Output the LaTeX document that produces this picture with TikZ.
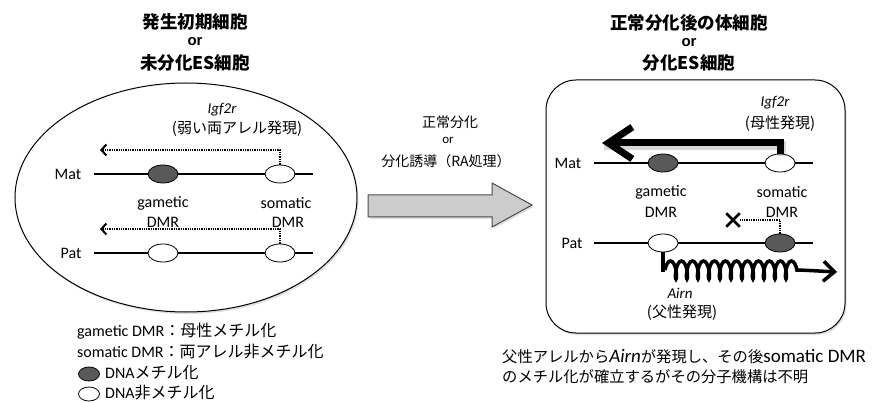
\documentclass[tikz,border=0pt]{standalone}
\usepackage{fontspec}
\setmainfont{Carlito}
\newfontfamily\jp{Noto Sans CJK JP}
\newfontfamily\arialf{Liberation Sans}
\usetikzlibrary{arrows.meta,shapes.geometric,shapes.misc,decorations.pathmorphing,shadows}
\definecolor{dmrgray}{gray}{0.35}
\definecolor{arrowgray}{gray}{0.8}
\newcommand\notejp[1]{{\jp\fontsize{15.3}{20}\selectfont #1}}
\begin{document}
\begin{tikzpicture}[x=1pt,y=-1pt,
  ttl/.style={font=\fontsize{17.5}{20}\selectfont\jp\bfseries, inner sep=0pt},
  ttlor/.style={font=\fontsize{15}{16}\selectfont\arialf\bfseries, inner sep=0pt},
  lab/.style={font=\fontsize{16}{18}\selectfont, inner sep=0pt},
  ital/.style={font=\fontsize{15}{18}\selectfont\itshape, inner sep=0pt},
  jlab/.style={font=\fontsize{15}{18}\selectfont\jp, inner sep=0pt},
  mid/.style={font=\fontsize{14}{16}\selectfont\jp, inner sep=0pt},
  note/.style={font=\fontsize{19}{22}\selectfont, inner sep=0pt, anchor=west},
  dmrfill/.style={ellipse, draw, line width=0.8pt, fill=dmrgray, minimum width=30pt, minimum height=18pt, inner sep=0pt},
  dmropen/.style={ellipse, draw, line width=0.8pt, fill=white, minimum width=30pt, minimum height=18pt, inner sep=0pt},
  chrom/.style={line width=2.2pt},
  weak/.style={densely dotted, line width=1.3pt, -{Straight Barb[length=5pt,width=11pt,line width=2pt]}},
  softshadow/.style={drop shadow={shadow xshift=1.5pt, shadow yshift=-2pt, opacity=0.25, fill=gray}},
]
\useasboundingbox (0,0) rectangle (874,403);

% ---------------- left cell ----------------
\node[ttl] (t1a) at (195,22) {発生初期細胞};
\node[ttlor] (t1b) at (195,42) {or};
\node[ttl] (t1c) at (195,63) {未分化ES細胞};

\node[ellipse, draw, line width=1pt, fill=white, minimum width=342pt, minimum height=229pt, inner sep=0pt, softshadow] (cellL) at (186,197.5) {};

\node[ital] (igfL) at (222,110) {Igf2r};
\node[jlab] (exprL) at (237,129) {(弱い両アレル発現)};

\coordinate (mLa) at (94,174);
\coordinate (mLb) at (313,174);
\coordinate (pLa) at (94,253);
\coordinate (pLb) at (313,253);
\draw[chrom] (mLa) -- (mLb);
\draw[chrom] (pLa) -- (pLb);
\node[lab] (matL) at (68,174) {Mat};
\node[lab] (patL) at (71,253) {Pat};
\node[dmrfill] (gamL1) at (163,174) {};
\node[dmropen] (somL1) at (280,174) {};
\node[dmropen] (gamL2) at (163,253) {};
\node[dmropen] (somL2) at (280,253) {};

\node[lab] (gtL) at (163,203) {gametic};
\node[lab] (gdL) at (163,222) {DMR};
\node[lab] (stL) at (286,203) {somatic};
\node[lab] (sdL) at (288,222) {DMR};

\coordinate (tipL1) at (100,150);
\coordinate (tipL2) at (100,229);
\draw[weak] (somL1.north) |- (tipL1);
\draw[weak] (somL2.north) |- (tipL2);

% legend
\node[lab, anchor=west] (legA) at (77,331) {gametic DMR{\jp ：母性メチル化}};
\node[lab, anchor=west] (legB) at (77,352) {somatic DMR{\jp ：両アレル非メチル化}};
\node[dmrfill, minimum width=21pt, minimum height=14pt] (legC) at (89,374) {};
\node[lab, anchor=west] (legCt) at (105,373) {DNA{\jp メチル化}};
\node[dmropen, minimum width=21pt, minimum height=14pt] (legD) at (89,394) {};
\node[lab, anchor=west] (legDt) at (105,393) {DNA{\jp 非メチル化}};

% ---------------- middle ----------------
\node[mid] (m1) at (450,122) {正常分化};
\node[font=\fontsize{13}{14}\selectfont, inner sep=0pt] (m2) at (448,140) {or};
\node[mid] (m3) at (446,161) {分化誘導（RA処理）};
\draw[fill=arrowgray, draw=black!70, line width=1pt, softshadow]
  (368,195) -- (492,195) -- (492,183) -- (532,205) -- (492,227) -- (492,217) -- (368,217) -- cycle;

% ---------------- right cell ----------------
\node[ttl] (t2a) at (689,23) {正常分化後の体細胞};
\node[ttlor] (t2b) at (689,43) {or};
\node[ttl] (t2c) at (689,63) {分化ES細胞};

\node[draw, rounded corners=30pt, line width=1pt, fill=white, minimum width=299pt, minimum height=253pt, inner sep=0pt, softshadow] (cellR) at (695.5,206.5) {};

\node[ital] (igfR) at (775,103) {Igf2r};
\node[jlab] (exprR) at (780,124) {(母性発現)};

\coordinate (mRa) at (594,163);
\coordinate (mRb) at (813,163);
\coordinate (pRa) at (594,243);
\coordinate (pRb) at (813,243);
\draw[chrom] (mRa) -- (mRb);
\draw[chrom] (pRa) -- (pRb);
\node[lab] (matR) at (568,163) {Mat};
\node[lab] (patR) at (572,243) {Pat};
\node[dmrfill] (gamR1) at (663,163) {};
\node[dmropen] (somR1) at (780,163) {};
\node[dmropen] (gamR2) at (663,243) {};
\node[dmrfill] (somR2) at (780,243) {};

\node[lab] (gtR) at (661,192) {gametic};
\node[lab] (gdR) at (661,212) {DMR};
\node[lab] (stR) at (782,192) {somatic};
\node[lab] (sdR) at (782,212) {DMR};

% strong maternal Igf2r expression
\coordinate (tipR) at (602,143);
\draw[gray, opacity=0.3, line width=9pt, transform canvas={shift={(1.5pt,-2.5pt)}}] (somR1.north) |- (tipR);
\draw[line width=7pt, -{Straight Barb[length=24pt,width=32pt,line width=7pt]}] (somR1.north) |- (tipR);

% blocked paternal Igf2r
\node[cross out, draw, line width=2.5pt, minimum size=11pt, inner sep=0pt] (xmark) at (733,220) {};
\draw[densely dotted, line width=1.3pt] (somR2.north) |- (xmark.east);

% Airn
\coordinate (coilA) at (665,270);
\coordinate (coilB) at (800,270);
\coordinate (tipAirn) at (837,272);
\draw[line width=3.5pt] (gamR2.south) |- (coilA);
\draw[line width=3.5pt, decorate, decoration={coil, amplitude=9pt, segment length=11pt, aspect=0.3}] (coilA) -- (coilB);
\draw[line width=3.5pt, -{Straight Barb[length=11pt,width=20pt,line width=3.5pt]}] (coilB) -- (tipAirn);

\node[ital] (airn) at (680,293) {Airn};
\node[jlab] (exprA) at (682,313) {(父性発現)};

% note
\node[note] (note1) at (502,357) {\notejp{父性アレルから}\textit{Airn}\notejp{が発現し、その後}somatic DMR};
\node[note] (note2) at (502,377) {\notejp{のメチル化が確立するがその分子機構は不明}};
\end{tikzpicture}
\end{document}
